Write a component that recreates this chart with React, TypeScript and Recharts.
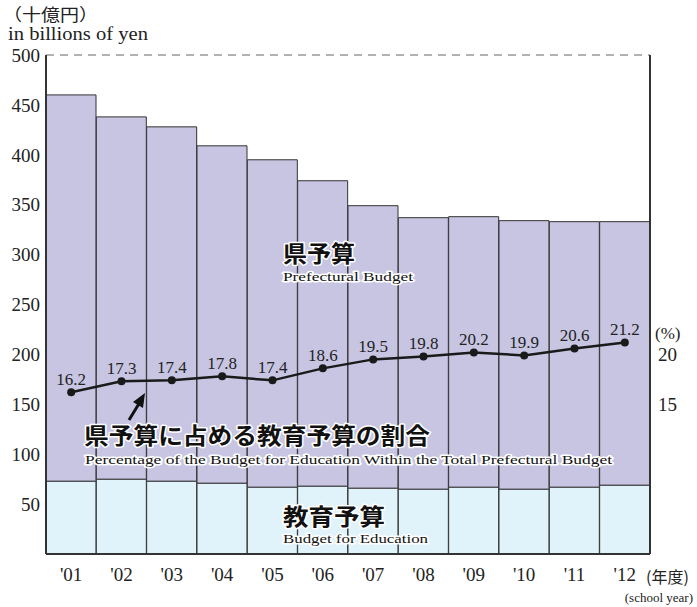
import { ComposedChart, Bar, Line, XAxis, YAxis, CartesianGrid, LabelList } from 'recharts'

const years = ["'01", "'02", "'03", "'04", "'05", "'06", "'07", "'08", "'09", "'10", "'11", "'12"]
const totalBudget = [460, 438, 428, 409, 395, 374, 349, 337, 338, 334, 333, 333]
const eduBudget = [73, 75, 73, 71, 67, 68, 66, 65, 67, 65, 67, 69]
const eduShare = [16.2, 17.3, 17.4, 17.8, 17.4, 18.6, 19.5, 19.8, 20.2, 19.9, 20.6, 21.2]
const leftTicks = [50, 100, 150, 200, 250, 300, 350, 400, 450, 500]
const rightTicks = [15, 20]

const data = years.map((y, i) => ({
  year: y,
  edu: eduBudget[i],
  pref: totalBudget[i] - eduBudget[i],
  pct: eduShare[i],
}))

const serif = '"Liberation Serif", "DejaVu Serif", serif'
const jp = '"Noto Sans CJK JP", sans-serif'

const halo = { stroke: '#fff', strokeWidth: 3, paintOrder: 'stroke' as const, strokeLinejoin: 'round' as const }

function Overlay() {
  return (
    <svg width={697} height={607} style={{ position: 'absolute', left: 0, top: 0, pointerEvents: 'none' }}>
      <text x={3} y={21} fontFamily={jp} fontSize={17} fill="#222" textLength={95} lengthAdjust="spacingAndGlyphs">（十億円）</text>
      <text x={8} y={40} fontFamily={serif} fontSize={18} fill="#222" textLength={140} lengthAdjust="spacingAndGlyphs">in billions of yen</text>

      <text x={655} y={339} fontFamily={serif} fontSize={17} fill="#222">(%)</text>
      <text x={646} y={583} fontFamily={jp} fontSize={16} fill="#222">(年度)</text>
      <text x={693} y={602} textAnchor="end" fontFamily={serif} fontSize={13} fill="#222">(school year)</text>

      <text x={283} y={262} fontFamily={jp} fontWeight={700} fontSize={23} fill="#111" textLength={72} lengthAdjust="spacingAndGlyphs" {...halo}>県予算</text>
      <text x={283} y={281} fontFamily={serif} fontSize={13} fill="#111" textLength={130} lengthAdjust="spacingAndGlyphs" {...halo}>Prefectural Budget</text>

      <line x1={129} y1={420} x2={140} y2={402} stroke="#111" strokeWidth={3} />
      <polygon points="145,393 133,402 143,408" fill="#111" />
      <text x={84} y={444} fontFamily={jp} fontWeight={700} fontSize={23} fill="#111" textLength={346} lengthAdjust="spacingAndGlyphs" {...halo}>県予算に占める教育予算の割合</text>
      <text x={85} y={464} fontFamily={serif} fontSize={13} fill="#111" textLength={527} lengthAdjust="spacingAndGlyphs" {...halo}>Percentage of the Budget for Education Within the Total Prefectural Budget</text>

      <text x={283} y={525} fontFamily={jp} fontWeight={700} fontSize={23} fill="#111" textLength={102} lengthAdjust="spacingAndGlyphs" {...halo}>教育予算</text>
      <text x={283} y={543} fontFamily={serif} fontSize={13} fill="#111" textLength={145} lengthAdjust="spacingAndGlyphs" {...halo}>Budget for Education</text>
    </svg>
  )
}

export default function App() {
  return (
    <div style={{ position: 'absolute', left: 0, top: 0, width: 697, height: 607, background: '#fff' }}>
      <ComposedChart
        width={697}
        height={607}
        data={data}
        margin={{ top: 55, right: 0, bottom: 0, left: 0 }}
        barCategoryGap={0}
        barGap={0}
      >
        <CartesianGrid vertical={false} stroke="#666" strokeDasharray="8 6" />
        <XAxis
          dataKey="year"
          height={53}
          tickLine={false}
          tickSize={0}
          tickMargin={14}
          axisLine={{ stroke: '#333', strokeWidth: 2 }}
          tick={{ fontFamily: serif, fontSize: 19, fill: '#222' }}
          interval={0}
        />
        <YAxis
          yAxisId="left"
          width={46}
          domain={[0, 500]}
          ticks={leftTicks}
          tickLine={false}
          tickSize={4}
          tickMargin={2}
          axisLine={{ stroke: '#333', strokeWidth: 2 }}
          tick={{ fontFamily: serif, fontSize: 19, fill: '#222' }}
        />
        <YAxis
          yAxisId="right"
          orientation="right"
          width={47}
          domain={[0, 50]}
          ticks={rightTicks}
          tickLine={false}
          tickSize={4}
          tickMargin={4}
          axisLine={{ stroke: '#333', strokeWidth: 2 }}
          tick={{ fontFamily: serif, fontSize: 19, fill: '#222' }}
        />
        <Bar yAxisId="left" dataKey="edu" stackId="a" fill="#e0f3fa" stroke="#333" strokeWidth={1} isAnimationActive={false} />
        <Bar yAxisId="left" dataKey="pref" stackId="a" fill="#c7c5e2" stroke="#333" strokeWidth={1} isAnimationActive={false} />
        <Line
          yAxisId="right"
          dataKey="pct"
          stroke="#1a1a1a"
          strokeWidth={2.5}
          dot={{ r: 4, fill: '#1a1a1a', stroke: '#1a1a1a', strokeWidth: 0 }}
          isAnimationActive={false}
        >
          <LabelList dataKey="pct" position="top" offset={7} style={{ fontFamily: serif, fontSize: 17, fill: '#222' }} />
        </Line>
      </ComposedChart>
      <Overlay />
    </div>
  )
}
